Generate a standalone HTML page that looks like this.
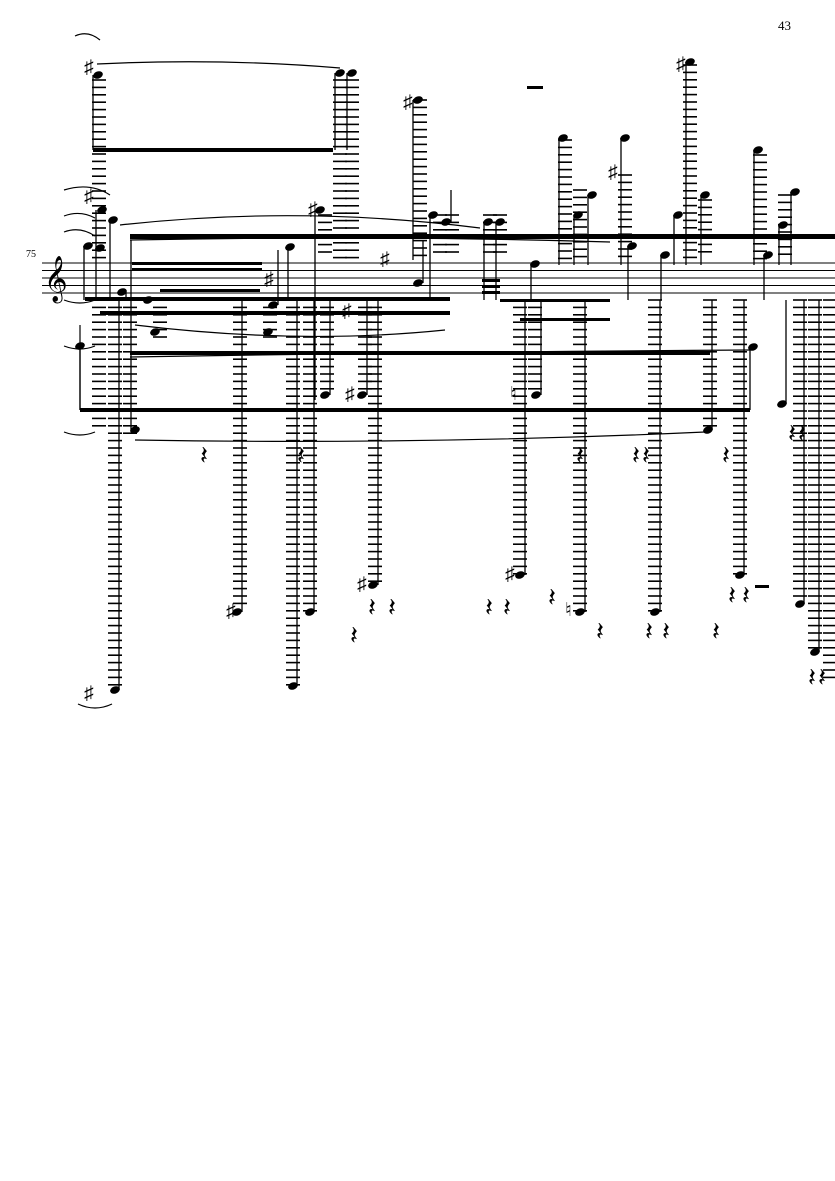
<!DOCTYPE html>
<html><head><meta charset="utf-8"><style>
html,body{margin:0;padding:0;background:#fff;width:835px;height:1181px;overflow:hidden}
svg{display:block}
text{font-family:"Liberation Serif",serif}
</style></head><body>
<svg id="s" width="835" height="1181" viewBox="0 0 835 1181" xmlns="http://www.w3.org/2000/svg">
<text x="778" y="30" font-size="13">43</text>
<text x="26" y="257" font-size="10">75</text>
<g stroke="#000" stroke-width="1">
<line x1="42" y1="263" x2="835" y2="263"/><line x1="42" y1="270.5" x2="835" y2="270.5"/>
<line x1="42" y1="278" x2="835" y2="278"/><line x1="42" y1="285.5" x2="835" y2="285.5"/>
<line x1="42" y1="293" x2="835" y2="293"/>
</g>
<text x="44" y="292" font-size="40">𝄞</text>
<g id="led" stroke="#000" stroke-width="1.6"></g>
<g id="stm" stroke="#000" stroke-width="1.3"></g>
<g id="nh" fill="#000"></g>
<g fill="#000">
<rect x="93" y="148" width="240" height="4"/>
<rect x="130" y="234" width="705" height="5"/>
<rect x="132" y="262" width="130" height="3"/><rect x="132" y="268" width="130" height="3"/>
<rect x="160" y="289" width="100" height="3"/>
<rect x="85" y="297" width="365" height="4"/><rect x="100" y="311" width="350" height="4"/>
<rect x="500" y="299" width="110" height="3"/><rect x="520" y="318" width="90" height="3"/>
<rect x="130" y="351" width="580" height="4"/>
<rect x="80" y="408" width="670" height="4"/>
<rect x="482" y="279" width="18" height="3"/><rect x="482" y="285" width="18" height="3"/><rect x="482" y="291" width="18" height="3"/>
<rect x="527" y="86" width="16" height="3"/><rect x="755" y="585" width="14" height="3"/>
</g>
<g fill="none" stroke="#000" stroke-width="1.2">
<path d="M97 64 Q220 58 340 68"/>
<path d="M120 225 Q300 205 480 228"/>
<path d="M130 240 Q380 235 610 242"/>
<path d="M135 325 Q300 345 445 330"/>
<path d="M135 440 Q420 445 705 432"/>
<path d="M130 357 Q420 352 750 350"/>
<path d="M80 325 L80 410"/>
<path d="M64 190 Q90 182 110 195"/><path d="M64 216 Q80 210 95 218"/><path d="M64 232 Q80 226 95 236"/>
<path d="M64 300 Q80 306 95 300"/><path d="M64 346 Q80 352 95 346"/><path d="M64 432 Q80 438 95 432"/>
<path d="M78 704 Q95 712 112 704"/><path d="M75 36 Q88 30 100 40"/>
</g>
<g font-size="19" font-family="DejaVu Sans">
<text x="84" y="202">♯</text><text x="84" y="73">♯</text><text x="308" y="215">♯</text>
<text x="403" y="108">♯</text><text x="380" y="265">♯</text><text x="608" y="178">♯</text>
<text x="676" y="70">♯</text><text x="264" y="285">♯</text><text x="342" y="317">♯</text>
<text x="345" y="400">♯</text><text x="357" y="590">♯</text><text x="505" y="580">♯</text>
<text x="226" y="617">♯</text><text x="84" y="699">♯</text><text x="510" y="400">♮</text><text x="565" y="616">♮</text>
</g>
<g id="rests" font-size="26" font-family="DejaVu Sans"></g>
</svg>
<script>
var NS="http://www.w3.org/2000/svg";
function el(p,t,a){var e=document.createElementNS(NS,t);for(var k in a)e.setAttribute(k,a[k]);document.getElementById(p).appendChild(e);return e;}
function col(x,y1,y2){for(var y=y1;y<=y2;y+=7.4){if(y>259&&y<297)continue;el('led','line',{x1:x-7,x2:x+7,y1:y,y2:y});}}
function note(x,y,sx,sy){el('nh','ellipse',{cx:x,cy:y,rx:5,ry:3.6,transform:'rotate(-20 '+x+' '+y+')'});if(sy!==undefined)el('stm','line',{x1:sx,x2:sx,y1:y,y2:sy});}
var C=[[99,80,260],[99,300,430],[115,300,690],[340,80,260],[352,80,260],[325,215,260],[420,100,260],[440,215,260],[452,215,260],
[490,215,260],[500,215,260],[565,140,260],[580,190,260],[625,175,260],[690,65,260],[705,200,260],[760,155,260],[785,195,260],
[240,300,610],[293,300,685],[310,300,612],[327,300,395],[365,300,395],[375,300,585],[520,300,575],[535,300,395],[580,300,612],
[655,300,612],[710,300,430],[740,300,575],[800,300,600],[815,300,650],[830,300,680],[130,300,440],[160,300,340],[270,300,340]];
C.forEach(function(c){col(c[0],c[1],c[2]);});
var N=[[98,75,93,150],[340,73,335,150],[352,73,347,150],[418,100,413,260],[320,210,315,400],[102,210,96,300],[113,220,110,300],
[88,246,84,300],[100,248],[122,292,126,300],[148,300],[268,332],[273,305,278,250],[290,247,288,300],[433,215,430,300],
[418,283,423,240],[446,222,451,190],[488,222,484,300],[500,222,496,300],[535,264,531,300],[563,138,559,265],[578,215,574,265],
[592,195,588,265],[625,138,621,265],[632,246,628,300],[665,255,661,300],[678,215,674,265],[705,195,701,265],[690,62,686,265],
[758,150,754,265],[768,255,764,300],[783,225,779,265],[795,192,791,265],[135,430,131,240],[80,346,80,410],[325,395,330,300],
[362,395,367,300],[373,585,378,300],[520,575,525,300],[536,395,541,300],[580,612,585,300],[655,612,660,300],[708,430,712,300],
[740,575,744,300],[753,347,750,410],[782,404,786,300],[800,604,804,300],[815,652,819,300],[237,612,242,300],[293,686,297,300],
[310,612,314,300],[115,690,119,300],[155,332]];
N.forEach(function(n){note(n[0],n[1],n[2],n[3]);});
var R=[[200,460],[297,460],[576,460],[632,460],[642,460],[722,460],[788,438],[798,438],[350,640],[368,612],[388,612],[485,612],
[503,612],[548,602],[596,636],[645,636],[662,636],[712,636],[728,600],[742,600],[808,682],[818,682]];
R.forEach(function(r){var t=el('rests','text',{x:r[0],y:r[1]+4});t.textContent='\u{1D13D}';});
</script>
</body></html>
